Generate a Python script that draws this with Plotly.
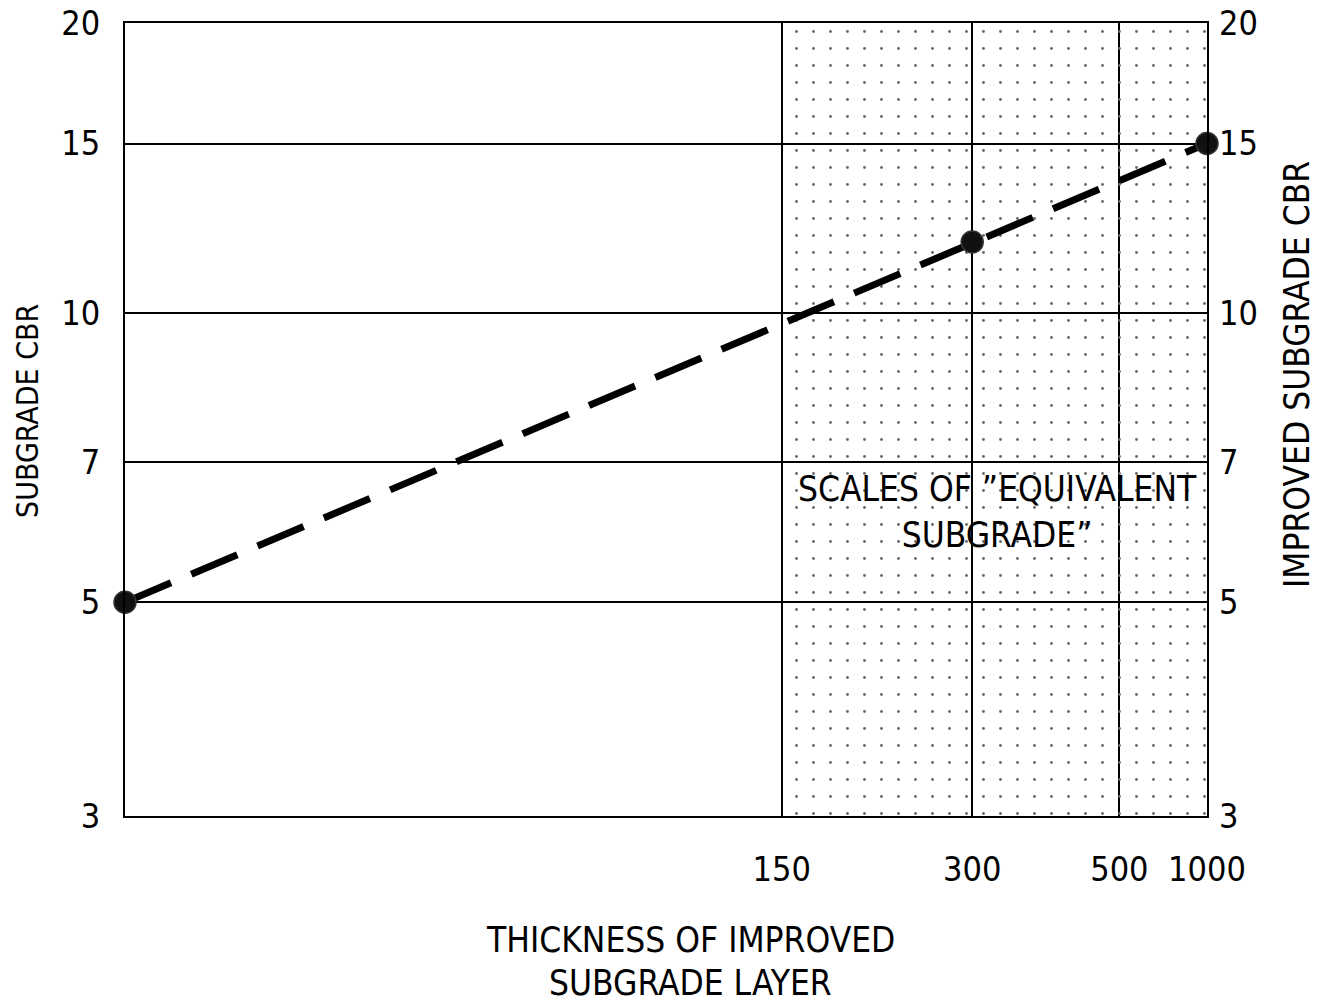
import math
import plotly.graph_objects as go

# ---- data ----
cbr_ticks = [3, 5, 7, 10, 15, 20]
thickness_labels = ["150", "300", "500", "1000"]
thickness_pos = [0.607, 0.783, 0.919, 1.0]      # position along the thickness scale (fraction of width)
line_x = [0.0, 0.783, 1.0]                       # points on the relation line
line_cbr = [5, 11.85, 15]
cbr_min, cbr_max = 3, 20

FONT = "DejaVu Sans Condensed, Liberation Sans Narrow, sans-serif"

fig = go.Figure()

# dotted "equivalent subgrade" zone
zx0 = thickness_pos[0]
zx1 = thickness_pos[-1]
fig.add_trace(go.Scatter(
    x=[zx0, zx1, zx1, zx0, zx0],
    y=[cbr_min, cbr_min, cbr_max, cbr_max, cbr_min],
    mode="lines", line=dict(width=0), fill="toself",
    fillcolor="rgba(0,0,0,0)",
    fillpattern=dict(shape=".", size=17, solidity=0.022, fgcolor="#666666",
                     bgcolor="rgba(0,0,0,0)", fillmode="replace"),
    hoverinfo="skip", showlegend=False,
))

# dashed relation line
fig.add_trace(go.Scatter(
    x=[line_x[0], line_x[-1]], y=[line_cbr[0], line_cbr[-1]],
    mode="lines", line=dict(color="black", width=7, dash="50px,22px"),
    showlegend=False, hoverinfo="skip", cliponaxis=False,
))
# markers
fig.add_trace(go.Scatter(
    x=line_x, y=line_cbr, mode="markers", cliponaxis=False,
    marker=dict(size=22, color="#111111", line=dict(color="#333333", width=1.5)),
    showlegend=False,
))
# dummy trace for right axis
fig.add_trace(go.Scatter(x=[0.5], y=[10], yaxis="y2", mode="markers",
                         marker=dict(opacity=0), showlegend=False, hoverinfo="skip"))

OFF = 8  # page body margin
W, H = 1330 - OFF, 1002 - OFF
L, T = 125 - OFF, 23 - OFF
R = W - (1207 - OFF)
B = H - (816 - OFF)
PW, PH = W - L - R, H - T - B


def px(xs):
    return (xs - OFF - L) / PW


def py(ys):
    return (H - B - (ys - OFF)) / PH


def ann(text, x, y, size, angle=0):
    return dict(text=text, x=px(x), y=py(y), xref="paper", yref="paper",
                xanchor="center", yanchor="middle", showarrow=False,
                textangle=angle, font=dict(size=size), align="center")


EPS = 0.0004
yr = [math.log10(cbr_min) - EPS, math.log10(cbr_max) + EPS]
fig.update_layout(
    width=W, height=H,
    margin=dict(l=L, r=R, t=T, b=B, autoexpand=False),
    paper_bgcolor="white", plot_bgcolor="white",
    font=dict(family=FONT, color="black", size=35),
    xaxis=dict(range=[0, 1], tickvals=thickness_pos, ticktext=thickness_labels,
               showgrid=True, gridcolor="black", gridwidth=1.5,
               showline=True, linecolor="black", linewidth=2, mirror=True,
               ticks="", zeroline=False, ticklabelstandoff=22, automargin=False,
               ticklabeloverflow="allow", tickfont=dict(size=34)),
    yaxis=dict(type="log", range=yr, tickvals=cbr_ticks, ticktext=[str(v) for v in cbr_ticks],
               showgrid=True, gridcolor="black", gridwidth=1.5,
               showline=True, linecolor="black", linewidth=2, mirror=True,
               ticks="", zeroline=False, ticklabelstandoff=16, automargin=False,
               ticklabeloverflow="allow", tickfont=dict(size=34)),
    yaxis2=dict(type="log", range=yr, overlaying="y", side="right",
                tickvals=cbr_ticks, ticktext=[str(v) for v in cbr_ticks], automargin=False,
                showgrid=False, ticks="", ticklabelstandoff=11, ticklabeloverflow="allow",
                tickfont=dict(size=34)),
    annotations=[
        ann("SCALES OF ”EQUIVALENT<br>SUBGRADE”", 997, 512, 35),
        ann("THICKNESS OF IMPROVED", 690, 940, 35),
        ann("SUBGRADE LAYER", 690, 983, 35),
        ann("SUBGRADE CBR", 27, 411, 30, -90),
        ann("IMPROVED SUBGRADE CBR", 1297, 375, 35, -90),
    ],
)

fig.write_html("out.html")
